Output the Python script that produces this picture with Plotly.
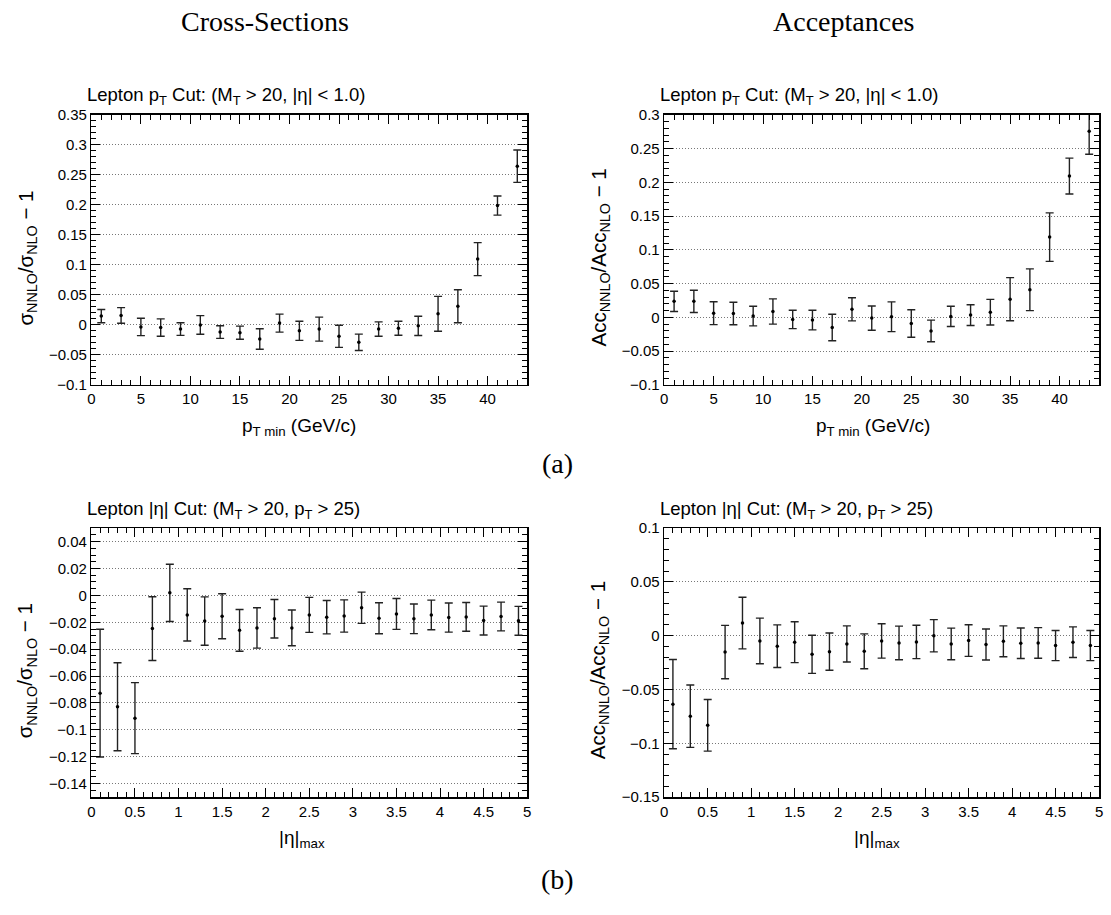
import plotly.graph_objects as go

# ---------------- data ----------------
pt_min = [1, 3, 5, 7, 9, 11, 13, 15, 17, 19, 21, 23, 25, 27, 29, 31, 33, 35, 37, 39, 41, 43]
xs_pt_val = [0.0147, 0.0158, -0.0033, -0.0044, -0.007, 0.0, -0.012, -0.013, -0.0235, 0.003, -0.0098,
             -0.007, -0.019, -0.029, -0.007, -0.0055, -0.0016, 0.0185, 0.031, 0.1097, 0.199, 0.2646]
xs_pt_err = [0.011, 0.013, 0.0145, 0.0145, 0.0105, 0.0155, 0.0105, 0.011, 0.017, 0.015, 0.016,
             0.02, 0.0185, 0.0136, 0.012, 0.0117, 0.016, 0.029, 0.0275, 0.0275, 0.016, 0.027]
acc_pt_val = [0.0238, 0.0238, 0.0063, 0.0058, 0.002, 0.0087, -0.003, -0.004, -0.015, 0.012, -0.001,
              0.001, -0.009, -0.02, 0.0015, 0.0034, 0.0078, 0.027, 0.041, 0.119, 0.2095, 0.2758]
acc_pt_err = [0.015, 0.0165, 0.017, 0.0167, 0.0145, 0.0187, 0.0136, 0.0145, 0.0196, 0.0172, 0.018,
              0.022, 0.0204, 0.016, 0.015, 0.0153, 0.019, 0.032, 0.031, 0.036, 0.0265, 0.034]

eta_max = [0.1, 0.3, 0.5, 0.7, 0.9, 1.1, 1.3, 1.5, 1.7, 1.9, 2.1, 2.3, 2.5, 2.7, 2.9, 3.1, 3.3, 3.5,
           3.7, 3.9, 4.1, 4.3, 4.5, 4.7, 4.9]
xs_eta_val = [-0.0727, -0.0828, -0.0913, -0.0247, 0.0019, -0.0145, -0.0191, -0.0155, -0.026, -0.0242,
              -0.0174, -0.0242, -0.0145, -0.0162, -0.0153, -0.0092, -0.017, -0.0138, -0.0174, -0.0145,
              -0.0165, -0.016, -0.0187, -0.0157, -0.0189]
xs_eta_err = [0.0475, 0.0327, 0.0264, 0.0237, 0.0213, 0.0194, 0.018, 0.0167, 0.0155, 0.015, 0.0143,
              0.0133, 0.013, 0.0124, 0.012, 0.0116, 0.0115, 0.0115, 0.011, 0.011, 0.0108, 0.0107,
              0.0107, 0.0107, 0.0107]
acc_eta_val = [-0.0636, -0.0748, -0.0833, -0.0152, 0.0118, -0.0048, -0.0097, -0.006, -0.0173, -0.0148,
               -0.0076, -0.0145, -0.0048, -0.0067, -0.0058, 0.0, -0.0076, -0.0045, -0.0082, -0.0052,
               -0.007, -0.0067, -0.0091, -0.006, -0.0091]
acc_eta_err = [0.0415, 0.029, 0.024, 0.0248, 0.024, 0.0212, 0.0198, 0.019, 0.0177, 0.0173, 0.0168,
               0.0162, 0.016, 0.0156, 0.0155, 0.015, 0.0147, 0.0147, 0.0144, 0.0144, 0.0142, 0.0142,
               0.014, 0.0142, 0.014]

title_pt = "Lepton p<sub>T</sub> Cut: (M<sub>T</sub> &gt; 20, |η| &lt; 1.0)"
title_eta = "Lepton |η| Cut: (M<sub>T</sub> &gt; 20, p<sub>T</sub> &gt; 25)"
ytitle_xs = "σ<sub>NNLO</sub>/σ<sub>NLO</sub> − 1"
ytitle_acc = "Acc<sub>NNLO</sub>/Acc<sub>NLO</sub> − 1"
xtitle_pt = "p<sub>T min</sub> (GeV/c)"
xtitle_eta = "|η|<sub>max</sub>"

# ---------------- layout helpers ----------------
W, H = 1111, 915
SANS = "Liberation Sans, Arial, sans-serif"
SERIF = "Liberation Serif, Times New Roman, serif"


def fx(px):
    return px / W


def fy(py):
    return 1 - py / H


panels = [
    dict(x=pt_min, y=xs_pt_val, e=xs_pt_err, xp=(88, 527), yp=(108, 383), xr=(0, 44), yr=(-0.1, 0.35),
         xd=5, xm=1, yd=0.05, ym=0.01, t=title_pt, xt=xtitle_pt, yt=ytitle_xs, xtx=297),
    dict(x=pt_min, y=acc_pt_val, e=acc_pt_err, xp=(665, 1103), yp=(108, 383), xr=(0, 44), yr=(-0.1, 0.3),
         xd=5, xm=1, yd=0.05, ym=0.01, t=title_pt, xt=xtitle_pt, yt=ytitle_acc, xtx=875),
    dict(x=eta_max, y=xs_eta_val, e=xs_eta_err, xp=(88, 527), yp=(529, 803), xr=(0, 5), yr=(-0.15, 0.05),
         xd=0.5, xm=0.1, yd=0.02, ym=0.005, t=title_eta, xt=xtitle_eta, yt=ytitle_xs, xtx=300),
    dict(x=eta_max, y=acc_eta_val, e=acc_eta_err, xp=(665, 1103), yp=(529, 803), xr=(0, 5), yr=(-0.15, 0.1),
         xd=0.5, xm=0.1, yd=0.05, ym=0.01, t=title_eta, xt=xtitle_eta, yt=ytitle_acc, xtx=879),
]

fig = go.Figure()
layout = dict(
    width=W, height=H, margin=dict(l=0, r=0, t=0, b=0),
    paper_bgcolor="white", plot_bgcolor="white", showlegend=False,
    font=dict(family=SANS, color="black"),
)
annotations = []

for i, p in enumerate(panels, start=1):
    sfx = "" if i == 1 else str(i)
    fig.add_trace(go.Scatter(
        x=p["x"], y=p["y"], mode="markers",
        marker=dict(color="black", size=3.5),
        error_y=dict(type="data", array=p["e"], visible=True, color="#222222", thickness=1.4, width=4),
        xaxis="x" + sfx, yaxis="y" + sfx, cliponaxis=True, hoverinfo="skip",
    ))
    common = dict(showline=True, linecolor="black", linewidth=1.5, mirror="allticks",
                  ticks="inside", tickcolor="black", tickwidth=1, zeroline=False,
                  tickfont=dict(family=SANS, size=15, color="black"))
    layout["xaxis" + sfx] = dict(
        domain=[fx(p["xp"][0]), fx(p["xp"][1])], range=list(p["xr"]), anchor="y" + sfx,
        tick0=0, dtick=p["xd"], ticklen=9, showgrid=False, fixedrange=True,
        minor=dict(ticks="inside", ticklen=5, dtick=p["xm"], tick0=0, tickcolor="black", showgrid=False),
        **common)
    layout["yaxis" + sfx] = dict(
        domain=[fy(p["yp"][1]), fy(p["yp"][0])], range=list(p["yr"]), anchor="x" + sfx,
        tick0=0, dtick=p["yd"], ticklen=9, showgrid=True, gridcolor="#777777", griddash="1px,2px",
        gridwidth=1, fixedrange=True,
        minor=dict(ticks="inside", ticklen=5, dtick=p["ym"], tick0=0, tickcolor="black", showgrid=False),
        **common)
    # panel title
    annotations.append(dict(text=p["t"], x=fx(p["xp"][0] - 6), y=fy(p["yp"][0] - 19), xref="paper", yref="paper",
                            xanchor="left", yanchor="middle", showarrow=False,
                            font=dict(family=SANS, size=18.5, color="black")))
    # x title
    annotations.append(dict(text=p["xt"], x=fx(p["xtx"]), y=fy(p["yp"][1] + 43), xref="paper", yref="paper",
                            xanchor="center", yanchor="middle", showarrow=False,
                            font=dict(family=SANS, size=19, color="black")))
    # y title
    annotations.append(dict(text=p["yt"], x=fx(p["xp"][0] - 65), y=fy((p["yp"][0] + p["yp"][1]) / 2 + 8),
                            xref="paper", yref="paper", textangle=-90,
                            xanchor="center", yanchor="middle", showarrow=False,
                            font=dict(family=SANS, size=20.5, color="black")))

# column headings and sub-figure labels
for txt, cx, cy in [("Cross-Sections", 263, 13), ("Acceptances", 846, 13), ("(a)", 558, 463), ("(b)", 558, 887)]:
    annotations.append(dict(text=txt, x=fx(cx), y=fy(cy), xref="paper", yref="paper",
                            xanchor="center", yanchor="middle", showarrow=False,
                            font=dict(family=SERIF, size=28, color="black")))

layout["annotations"] = annotations
fig.update_layout(**layout)
fig.write_html("out.html", config={"displayModeBar": False, "staticPlot": True},
               post_script="document.body.style.margin='0';document.body.style.overflow='hidden';")
